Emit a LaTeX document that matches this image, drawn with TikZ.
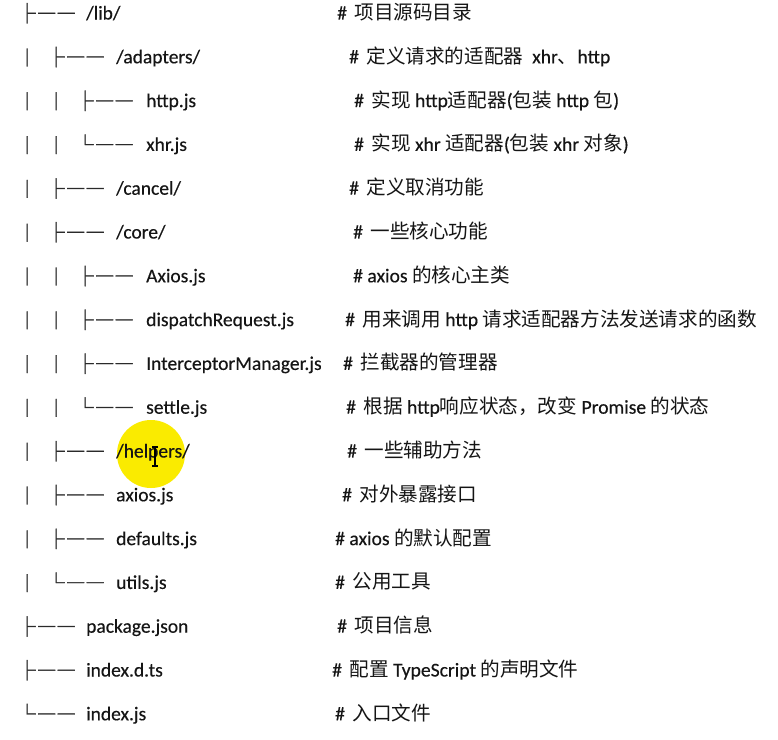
\documentclass[tikz,border=0pt]{standalone}
\usepackage{fontspec}
\setmainfont{Carlito}[FakeBold=0.3]
\newfontfamily\cjk{Noto Sans CJK SC}
\newfontfamily\treefont[FakeBold=1.6]{Noto Sans CJK SC}
\definecolor{ink}{HTML}{151515}
\definecolor{treeink}{HTML}{2A2A2A}
\definecolor{hl}{HTML}{FAEB00}
\newcommand\treeT{\scalebox{1}[1.2]{├\hspace{2.5pt}─\hspace{2.5pt}─}}
\newcommand\treeL{\scalebox{1}[1.2]{└\hspace{2.5pt}─\hspace{2.5pt}─}}
\newcommand\treeV{\scalebox{1}[1.05]{│}}
\newcommand\zh[1]{{\cjk #1}}
\newcommand\cg{\hspace{7.5pt}}
\tikzset{
  tree/.style={anchor=base west, inner sep=0pt, text=treeink, font=\treefont\fontsize{17pt}{17pt}\selectfont},
  fname/.style={anchor=base west, inner sep=0pt, text=ink, font=\fontsize{19.5pt}{19.5pt}\selectfont},
  cmt/.style={anchor=base west, inner sep=0pt, text=ink, font=\fontsize{19.6pt}{19.6pt}\selectfont},
  cursorline/.style={draw=black, line width=1.1pt},
}
\begin{document}
\begin{tikzpicture}[x=1pt,y=-1pt]
\useasboundingbox (0,0) rectangle (778,739);
\fill[white] (0,0) rectangle (778,739);
% highlight
\fill[hl] (151,454) circle[radius=34pt];

% row 0
\node[tree] (t0) at (18.5,21) {\treeT};
\node[fname] (n0) at (86,19.5) {/lib/};
\node[cmt] (c0) at (337,19.5) {\#\cg\zh{项目源码目录}};
% row 1
\node[tree] (v1a) at (18.5,64.3) {\treeV};
\node[tree] (t1) at (47.5,64.8) {\treeT};
\node[fname] (n1) at (116,63.3) {/adapters/};
\node[cmt] (c1) at (349,63.3) {\#\cg\zh{定义请求的适配器}\hspace{9pt}xhr\zh{、}http};
% row 2
\node[tree] (v2a) at (18.5,108.1) {\treeV};
\node[tree] (v2b) at (47.5,108.1) {\treeV};
\node[tree] (t2) at (76.5,108.6) {\treeT};
\node[fname] (n2) at (146,107.1) {http.js};
\node[cmt] (c2) at (354,107.1) {\#\cg\zh{实现} http\zh{适配器}(\zh{包装} http \zh{包})};
% row 3
\node[tree] (v3a) at (18.5,151.9) {\treeV};
\node[tree] (v3b) at (47.5,151.9) {\treeV};
\node[tree] (t3) at (76.5,152.4) {\treeL};
\node[fname] (n3) at (146,150.9) {xhr.js};
\node[cmt] (c3) at (354,150.9) {\#\cg\zh{实现} xhr \zh{适配器}(\zh{包装} xhr \zh{对象})};
% row 4
\node[tree] (v4a) at (18.5,195.7) {\treeV};
\node[tree] (t4) at (47.5,196.2) {\treeT};
\node[fname] (n4) at (116,194.7) {/cancel/};
\node[cmt] (c4) at (349,194.7) {\#\cg\zh{定义取消功能}};
% row 5
\node[tree] (v5a) at (18.5,239.5) {\treeV};
\node[tree] (t5) at (47.5,240) {\treeT};
\node[fname] (n5) at (116,238.5) {/core/};
\node[cmt] (c5) at (353,238.5) {\#\cg\zh{一些核心功能}};
% row 6
\node[tree] (v6a) at (18.5,283.3) {\treeV};
\node[tree] (v6b) at (47.5,283.3) {\treeV};
\node[tree] (t6) at (76.5,283.8) {\treeT};
\node[fname] (n6) at (146,282.3) {Axios.js};
\node[cmt] (c6) at (353,282.3) {\# axios \zh{的核心主类}};
% row 7
\node[tree] (v7a) at (18.5,327.1) {\treeV};
\node[tree] (v7b) at (47.5,327.1) {\treeV};
\node[tree] (t7) at (76.5,327.6) {\treeT};
\node[fname] (n7) at (146,326.1) {dispatchRequest.js};
\node[cmt] (c7) at (345,326.1) {\#\cg\zh{用来调用} http \zh{请求适配器方法发送请求的函数}};
% row 8
\node[tree] (v8a) at (18.5,370.9) {\treeV};
\node[tree] (v8b) at (47.5,370.9) {\treeV};
\node[tree] (t8) at (76.5,371.4) {\treeT};
\node[fname] (n8) at (146,369.9) {InterceptorManager.js};
\node[cmt] (c8) at (343,369.9) {\#\cg\zh{拦截器的管理器}};
% row 9
\node[tree] (v9a) at (18.5,414.7) {\treeV};
\node[tree] (v9b) at (47.5,414.7) {\treeV};
\node[tree] (t9) at (76.5,415.2) {\treeL};
\node[fname] (n9) at (146,413.7) {settle.js};
\node[cmt] (c9) at (346,413.7) {\#\cg\zh{根据} http\zh{响应状态，改变} Promise \zh{的状态}};
% row 10
\node[tree] (v10a) at (18.5,458.5) {\treeV};
\node[tree] (t10) at (47.5,459) {\treeT};
\node[fname] (n10) at (116,457.5) {/helpers/};
\node[cmt] (c10) at (347,457.5) {\#\cg\zh{一些辅助方法}};
% row 11
\node[tree] (v11a) at (18.5,502.3) {\treeV};
\node[tree] (t11) at (47.5,502.8) {\treeT};
\node[fname] (n11) at (116,501.3) {axios.js};
\node[cmt] (c11) at (342,501.3) {\#\cg\zh{对外暴露接口}};
% row 12
\node[tree] (v12a) at (18.5,546.1) {\treeV};
\node[tree] (t12) at (47.5,546.6) {\treeT};
\node[fname] (n12) at (116,545.1) {defaults.js};
\node[cmt] (c12) at (335,545.1) {\# axios \zh{的默认配置}};
% row 13
\node[tree] (v13a) at (18.5,589.9) {\treeV};
\node[tree] (t13) at (47.5,590.4) {\treeL};
\node[fname] (n13) at (116,588.9) {utils.js};
\node[cmt] (c13) at (335,588.9) {\#\cg\zh{公用工具}};
% row 14
\node[tree] (t14) at (18.5,634.2) {\treeT};
\node[fname] (n14) at (86,632.7) {package.json};
\node[cmt] (c14) at (337,632.7) {\#\cg\zh{项目信息}};
% row 15
\node[tree] (t15) at (18.5,678) {\treeT};
\node[fname] (n15) at (86,676.5) {index.d.ts};
\node[cmt] (c15) at (332,676.5) {\#\cg\zh{配置} TypeScript \zh{的声明文件}};
% row 16
\node[tree] (t16) at (18.5,721.8) {\treeL};
\node[fname] (n16) at (86,720.3) {index.js};
\node[cmt] (c16) at (335,720.3) {\#\cg\zh{入口文件}};

% text cursor (I-beam)
\coordinate (ibt) at (155,447);
\coordinate (ibb) at (155,466);
\draw[cursorline] (ibt) -- (ibb);
\draw[cursorline] ([xshift=-3pt]ibt) -- ([xshift=3pt]ibt);
\draw[cursorline] ([xshift=-3pt]ibb) -- ([xshift=3pt]ibb);
\end{tikzpicture}
\end{document}
